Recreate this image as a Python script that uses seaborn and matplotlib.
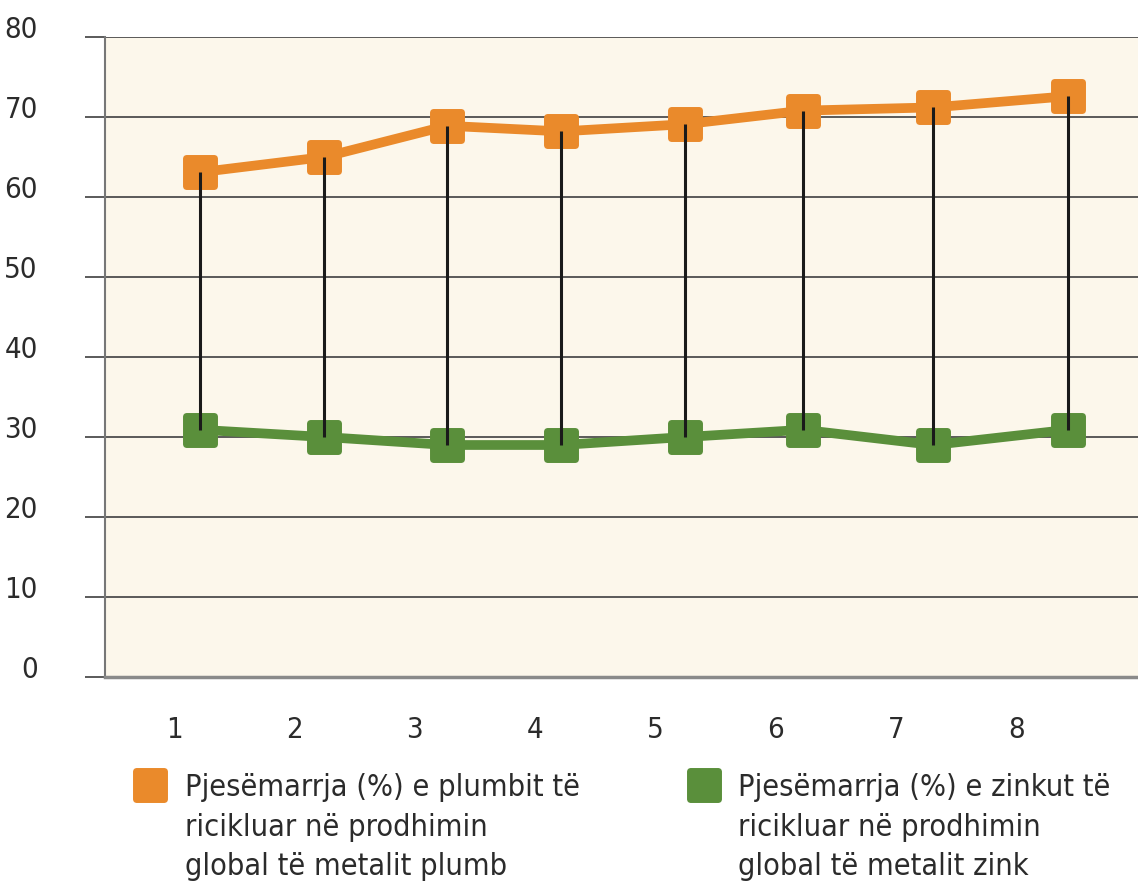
import matplotlib
matplotlib.use("Agg")
import matplotlib.pyplot as plt
import matplotlib.transforms as mtransforms
from matplotlib.lines import Line2D
from matplotlib.markers import MarkerStyle
import seaborn as sns

# Data
periods = [1, 2, 3, 4, 5, 6, 7, 8]
point_x = [1.22, 2.25, 3.27, 4.22, 5.25, 6.23, 7.31, 8.43]  # markers sit a little right of the tick labels
lead = [63.1, 65.0, 68.9, 68.2, 69.1, 70.8, 71.2, 72.6]
zinc = [30.9, 30.0, 29.0, 29.0, 30.0, 30.9, 29.0, 30.9]
lead_label = "Pjesëmarrja (%) e plumbit të\nricikluar në prodhimin\nglobal të metalit plumb"
zinc_label = "Pjesëmarrja (%) e zinkut të\nricikluar në prodhimin\nglobal të metalit zink"

orange = "#EA8A2B"
green = "#5A8F3B"
text_col = "#2b2b2b"

sns.set_theme(style="white")
plt.rcParams["font.family"] = ["DejaVu Sans"]
plt.rcParams["font.stretch"] = "condensed"

fig = plt.figure(figsize=(11.38, 8.84), dpi=100)
ax = fig.add_axes([105 / 1138, 1 - 677 / 884, 1033 / 1138, 640 / 884])
ax.set_facecolor("#FCF7EB")

marker = MarkerStyle("s", joinstyle="round")
for vals, col in [(lead, orange), (zinc, green)]:
    sns.lineplot(x=point_x, y=vals, color=col, linewidth=7, marker=marker,
                 markersize=20, markeredgewidth=5, markeredgecolor=col,
                 solid_joinstyle="round", ax=ax, zorder=3)

# drop lines between the two series
ax.vlines(point_x, zinc, lead, color="#1a1a1a", linewidth=2.2, zorder=5)

ax.set_xlim(0.4264, 9.013)
ax.set_ylim(0, 80)
ax.set_xticks(periods)
ax.set_xticklabels([str(p) for p in periods])
ax.set_yticks(range(0, 81, 10))
ax.set_axisbelow(True)
ax.yaxis.grid(True, color="#4d4d4d", linewidth=1.3)
ax.xaxis.grid(False)

ax.tick_params(axis="y", length=14.4, width=1.3, color="#4d4d4d", pad=34,
               labelsize=21, labelcolor=text_col, direction="out", left=True)
ax.tick_params(axis="x", length=0, pad=28, labelsize=21, labelcolor=text_col)
off = mtransforms.ScaledTranslation(0, 0.10, fig.dpi_scale_trans)
for lab in ax.get_yticklabels():
    lab.set_transform(lab.get_transform() + off)

for side in ["top", "right"]:
    ax.spines[side].set_visible(False)
ax.spines["left"].set_color("#777777")
ax.spines["left"].set_linewidth(1.5)
ax.spines["bottom"].set_color("#8a8a8a")
ax.spines["bottom"].set_linewidth(2.5)
ax.set_xlabel("")
ax.set_ylabel("")
if ax.get_legend():
    ax.get_legend().remove()

# legend below the axes
for hx, tx, col, lab in [(150, 185, orange, lead_label), (704, 738, green, zinc_label)]:
    fig.add_artist(Line2D([hx / 1138], [1 - 785 / 884], transform=fig.transFigure,
                          marker=marker, markersize=20, markeredgewidth=5,
                          color=col, markeredgecolor=col, linestyle="none"))
    fig.text(tx / 1138, 1 - 773 / 884, lab, fontsize=22, color=text_col,
             va="top", ha="left", linespacing=1.46)

fig.savefig("out.png", dpi=100)
